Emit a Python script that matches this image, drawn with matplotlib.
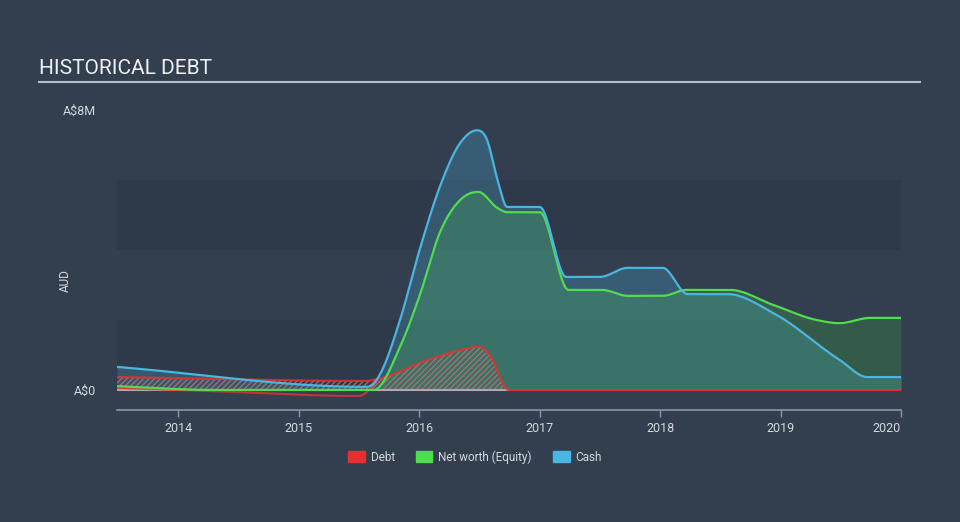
import numpy as np
import matplotlib
matplotlib.use("Agg")
import matplotlib.pyplot as plt
from matplotlib.patches import Patch

plt.rcParams['font.family'] = ['Roboto', 'DejaVu Sans']
plt.rcParams['hatch.linewidth'] = 0.8

# ---------------- data (A$ millions) ----------------
cash_years = [2013.49, 2015.55, 2015.62, 2015.68, 2015.84, 2016.01, 2016.17, 2016.34,
              2016.48, 2016.56, 2016.65, 2016.73, 2017.00, 2017.22, 2017.50, 2017.73,
              2018.02, 2018.23, 2018.56, 2018.94, 2019.49, 2019.72, 2020.00]
cash = [0.66, 0.09, 0.17, 0.49, 2.00, 4.09, 5.80, 7.06,
        7.42, 7.17, 6.00, 5.23, 5.23, 3.23, 3.23, 3.49,
        3.49, 2.74, 2.74, 2.20, 0.86, 0.37, 0.37]

equity_years = [2013.49, 2013.90, 2014.30, 2015.62, 2015.84, 2016.01, 2016.17, 2016.34,
                2016.49, 2016.65, 2016.73, 2017.00, 2017.24, 2017.52, 2017.73, 2018.02,
                2018.22, 2018.58, 2018.94, 2019.30, 2019.49, 2019.74, 2020.00]
equity = [0.11, 0.04, 0.0, 0.0, 1.23, 2.77, 4.49, 5.43,
          5.66, 5.20, 5.08, 5.08, 2.86, 2.86, 2.69, 2.69,
          2.86, 2.86, 2.43, 2.00, 1.91, 2.06, 2.06]

debt_years = [2013.49, 2015.55, 2015.68, 2016.07, 2016.34, 2016.49, 2016.61, 2016.70,
              2016.74, 2020.00]
debt = [0.37, 0.26, 0.34, 0.86, 1.14, 1.24, 0.86, 0.14, 0.0, 0.0]

debt_lower_years = [2013.49, 2014.26, 2015.50, 2015.66]
debt_lower = [0.06, -0.03, -0.17, 0.26]

year_ticks = [2014, 2015, 2016, 2017, 2018, 2019, 2020]
y_ticks = [0, 8]
y_tick_labels = ['A$0', 'A$8M']


def smooth(xs, ys, xq):
    """Monotone cubic Hermite (Fritsch-Butland style limited tangents)."""
    xs = np.asarray(xs, float); ys = np.asarray(ys, float)
    h = np.diff(xs); d = np.diff(ys) / h
    n = len(xs); m = np.zeros(n)
    for k in range(1, n - 1):
        if d[k - 1] * d[k] > 0:
            mk = (h[k] * d[k - 1] + h[k - 1] * d[k]) / (h[k - 1] + h[k])
            lim = 3 * min(abs(d[k - 1]), abs(d[k]))
            m[k] = np.sign(mk) * min(abs(mk), lim)
    m[0] = d[0]
    m[-1] = d[-1]
    idx = np.clip(np.searchsorted(xs, xq) - 1, 0, n - 2)
    t = (xq - xs[idx]) / h[idx]
    h00 = 2 * t**3 - 3 * t**2 + 1; h10 = t**3 - 2 * t**2 + t
    h01 = -2 * t**3 + 3 * t**2; h11 = t**3 - t**2
    return h00 * ys[idx] + h10 * h[idx] * m[idx] + h01 * ys[idx + 1] + h11 * h[idx] * m[idx + 1]


BG = '#333f4f'
BAND = '#2e3a49'
C_CASH = '#4ab5e0'
C_EQ = '#4fdc4f'
C_DEBT = '#e8302f'
TXT = '#d4d8dd'

fig = plt.figure(figsize=(9.6, 5.22), dpi=100, facecolor=BG)
ax = fig.add_axes([117 / 960, (522 - 410) / 522, (901 - 117) / 960, 300 / 522])
ax.set_facecolor(BG)
x0, x1 = 2013.49, 2020.0
ax.set_xlim(x0, x1)
ax.set_ylim(-0.571, 8)

for lo, hi in [(0, 2), (4, 6)]:
    ax.axhspan(lo, hi, color=BAND, lw=0, zorder=0)

xx = np.linspace(x0, x1, 3000)
yc = smooth(cash_years, cash, xx)
ye = smooth(equity_years, equity, xx)
xd = np.linspace(debt_years[0], debt_years[-1], 3000)
yd = smooth(debt_years, debt, xd)
xl = np.linspace(debt_lower_years[0], debt_lower_years[-1], 400)
yl = smooth(debt_lower_years, debt_lower, xl)

ax.fill_between(xx, 0, yc, color=C_CASH, alpha=0.25, lw=0, zorder=1)
ax.fill_between(xx, 0, ye, color=C_EQ, alpha=0.2, lw=0, zorder=2)
ax.fill_between(xd, 0, yd, facecolor='none', edgecolor='#b87070', hatch='//////', lw=0, zorder=3)

ax.plot([x0, 2016.74], [0, 0], color='#b0a8aa', lw=1.5, zorder=3)
ax.plot(xl, yl, color=C_DEBT, lw=1.5, alpha=0.8, zorder=4)
ax.plot(xd, yd, color=C_DEBT, lw=1.5, alpha=0.85, zorder=4)
ax.plot(xx, ye, color=C_EQ, lw=1.6, zorder=5)
ax.plot(xx, yc, color=C_CASH, lw=1.6, zorder=6)

for s in ['top', 'right', 'left']:
    ax.spines[s].set_visible(False)
ax.spines['bottom'].set_color('#8a96a3')
ax.spines['bottom'].set_linewidth(1.2)

ax.set_xticks(year_ticks)
ax.set_xticklabels([str(y) for y in year_ticks])
ax.tick_params(axis='x', colors='#8a96a3', labelcolor=TXT, labelsize=9, length=5, width=1, pad=4)
ax.get_xticklabels()[-1].set_horizontalalignment('right')
ax.set_yticks(y_ticks)
ax.set_yticklabels(y_tick_labels)
ax.tick_params(axis='y', length=0, labelcolor=TXT, labelsize=9, pad=15)
ax.set_ylabel('AUD', color=TXT, fontsize=8.5, labelpad=18)
ax.yaxis.set_label_coords(-0.058, 0.43)

fig.text(39 / 960, 1 - 69 / 522, 'HISTORICAL DEBT', color='#eef0f2', fontsize=15,
         ha='left', va='center')
fig.add_artist(plt.Line2D([39 / 960, 920 / 960], [1 - 82 / 522, 1 - 82 / 522],
                          color='#b8bec6', lw=1.5))

handles = [Patch(color=C_DEBT, label='Debt'), Patch(color=C_EQ, label='Net worth (Equity)'),
           Patch(color=C_CASH, label='Cash')]
leg = fig.legend(handles=handles, loc='center', bbox_to_anchor=(475 / 960, 1 - 457 / 522),
                 ncol=3, frameon=False, fontsize=8.5, handlelength=1.4, handleheight=1.0,
                 columnspacing=1.8, handletextpad=0.5)
for t in leg.get_texts():
    t.set_color(TXT)

fig.savefig('out.png', dpi=100, facecolor=BG)
